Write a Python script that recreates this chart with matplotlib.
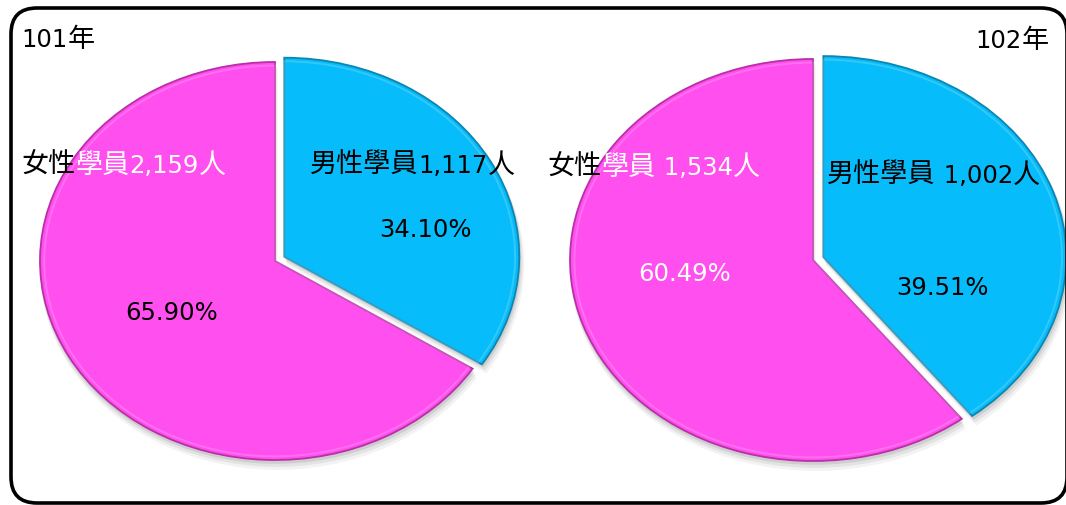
import matplotlib
matplotlib.use("Agg")
import matplotlib.pyplot as plt
from matplotlib.patches import FancyBboxPatch

plt.rcParams['font.family'] = ['DejaVu Sans', 'Noto Sans CJK TC']

# ---- data ----
years = ['101年', '102年']
categories = ['男性學員', '女性學員']
counts_101 = [1117, 2159]
counts_102 = [1002, 1534]
pct_101 = ['34.10%', '65.90%']
pct_102 = ['39.51%', '60.49%']

W, H = 1066, 506
MALE = '#06BCFA'
FEMALE = '#FF4FEE'
MALE_EDGE = '#0A86B0'
FEMALE_EDGE = '#B82FA8'

fig = plt.figure(figsize=(W / 100, H / 100), dpi=100)
fig.patch.set_facecolor('white')


def add_pie(cx, cy, rx, ry, values, explode):
    m = 1.12
    ax = fig.add_axes([(cx - m * rx) / W, 1 - (cy + m * ry) / H,
                       2 * m * rx / W, 2 * m * ry / H])
    # soft shadow
    for k, a in [(0.026, 0.08), (0.018, 0.12), (0.010, 0.18)]:
        ax.pie(values, startangle=90, counterclock=False,
               explode=[explode, 0], radius=1.0 + k * 0.4,
               center=(k * 0.4, -k * 1.5),
               colors=['#707070', '#707070'],
               wedgeprops=dict(linewidth=0, alpha=a))
    wedges, _ = ax.pie(values, startangle=90, counterclock=False,
                       explode=[explode, 0], radius=1.0,
                       colors=[MALE, FEMALE],
                       wedgeprops=dict(linewidth=1.3))
    wedges[0].set_edgecolor(MALE_EDGE)
    wedges[1].set_edgecolor(FEMALE_EDGE)
    # subtle bevel highlight
    ax.pie(values, startangle=90, counterclock=False,
           explode=[explode, 0], radius=0.982,
           colors=['none', 'none'],
           wedgeprops=dict(linewidth=1.4, edgecolor='white', alpha=0.18))
    ax.set_aspect('auto')
    ax.set_xlim(-m, m)
    ax.set_ylim(-m, m)
    ax.axis('off')
    return ax


add_pie(275, 262, 235, 199, counts_101, 0.045)
add_pie(813, 261, 243, 201, counts_102, 0.045)

# overlay axes in pixel coordinates
ov = fig.add_axes([0, 0, 1, 1], zorder=10)
ov.set_xlim(0, W)
ov.set_ylim(H, 0)
ov.axis('off')
ov.patch.set_alpha(0)

border = FancyBboxPatch((11, 9), 1056, 495,
                        boxstyle='round,pad=0,rounding_size=26',
                        facecolor='none', edgecolor='black', linewidth=2.6,
                        clip_on=False)
ov.add_patch(border)

FS_LAT = 17.5
FS_CJK = 19.5


def is_cjk(ch):
    return ord(ch) > 0x2E80


def runs(s, ncol1):
    """Split string into runs of (text, is_cjk, color_index)."""
    out = []
    for i, ch in enumerate(s):
        key = (is_cjk(ch), 0 if i < ncol1 else 1)
        if out and out[-1][1] == key:
            out[-1][0] += ch
        else:
            out.append([ch, key])
    return out


def label(x, y, s, colors, ncol1=0, ha='left'):
    renderer = fig.canvas.get_renderer()
    pieces = []
    for txt, (cjk, ci) in runs(s, ncol1):
        t = ov.text(0, y, txt, color=colors[ci],
                    fontsize=FS_CJK if cjk else FS_LAT,
                    ha='left', va='baseline')
        pieces.append(t)
    widths = []
    for t in pieces:
        bb = t.get_window_extent(renderer)
        widths.append(bb.width)
    total = sum(widths)
    start = x - total if ha == 'right' else (x - total / 2 if ha == 'center' else x)
    cur = start
    for t, w in zip(pieces, widths):
        t.set_x(cur)
        cur += w


BLACK, WHITE = 'black', 'white'

# year labels
label(21, 47, years[0], [BLACK, BLACK])
label(1049, 48, years[1], [BLACK, BLACK], ha='right')

# 101
label(310, 173, f'{categories[0]}{counts_101[0]:,}人', [BLACK, BLACK])
label(21, 173, f'{categories[1]}{counts_101[1]:,}人', [BLACK, WHITE], ncol1=2)
label(425, 237, pct_101[0], [BLACK, BLACK], ha='center')
label(172, 320, pct_101[1], [BLACK, BLACK], ha='center')

# 102
label(827, 183, f'{categories[0]} {counts_102[0]:,}人', [BLACK, BLACK])
label(547, 175, f'{categories[1]} {counts_102[1]:,}人', [BLACK, WHITE], ncol1=2)
label(942, 295, pct_102[0], [BLACK, BLACK], ha='center')
label(685, 281, pct_102[1], [WHITE, WHITE], ha='center')

fig.savefig('out.png', dpi=100, facecolor='white')
